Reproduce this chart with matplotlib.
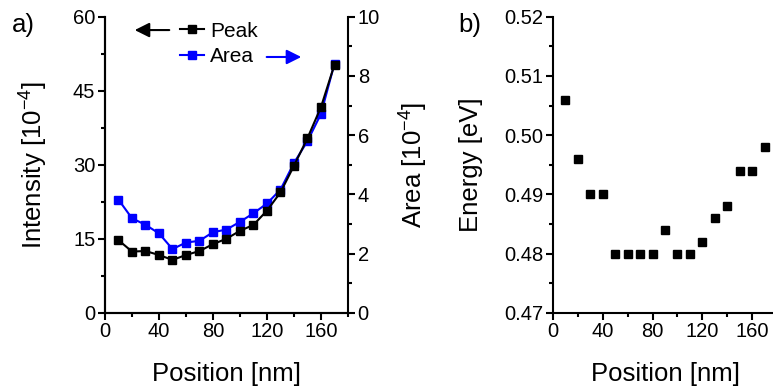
import matplotlib
matplotlib.use('Agg')
import matplotlib.pyplot as plt
from matplotlib.ticker import MultipleLocator

plt.rcParams['font.family'] = ['Liberation Sans', 'DejaVu Sans']
plt.rcParams['mathtext.default'] = 'regular'

pos = [10, 20, 30, 40, 50, 60, 70, 80, 90, 100, 110, 120, 130, 140, 150, 160, 170]
peak = [14.7, 12.4, 12.5, 11.7, 10.7, 11.7, 12.5, 13.9, 15.0, 16.6, 17.8, 20.7, 24.4, 29.8, 35.4, 41.7, 50.3]
area = [3.82, 3.19, 2.97, 2.68, 2.15, 2.37, 2.43, 2.72, 2.81, 3.07, 3.36, 3.69, 4.16, 5.06, 5.80, 6.72, 8.42]
energy = [0.506, 0.496, 0.490, 0.490, 0.480, 0.480, 0.480, 0.480, 0.484, 0.480, 0.480, 0.482, 0.486, 0.488, 0.494, 0.494, 0.498]

fig = plt.figure(figsize=(7.73, 3.92), dpi=100)
ax = fig.add_axes([0.1358, 0.2023, 0.3144, 0.755])
ax2 = ax.twinx()
bx = fig.add_axes([0.7154, 0.2023, 0.2898, 0.755])

lp, = ax.plot(pos, peak, 'k-s', lw=1.5, ms=5.8, label='Peak')
la, = ax2.plot(pos, area, '-s', color='#0000ff', lw=1.5, ms=5.8, label='Area')
ax.set_zorder(ax2.get_zorder() + 1)
ax.patch.set_visible(False)

ax.set_xlim(0, 180)
ax.set_ylim(0, 60)
ax2.set_ylim(0, 10)
ax.xaxis.set_major_locator(MultipleLocator(40))
ax.xaxis.set_minor_locator(MultipleLocator(20))
ax.yaxis.set_major_locator(MultipleLocator(15))
ax.yaxis.set_minor_locator(MultipleLocator(7.5))
ax2.yaxis.set_major_locator(MultipleLocator(2))
ax2.yaxis.set_minor_locator(MultipleLocator(1))
ax.set_xlabel('Position [nm]', fontsize=18.5)
ax.set_ylabel('Intensity [10$^{-4}$]', fontsize=18.5)
ax2.set_ylabel('Area [10$^{-4}$]', fontsize=18.5)
ax.xaxis.set_label_coords(0.5, -0.165)
ax.yaxis.set_label_coords(-0.226, 0.5)
ax2.yaxis.set_label_coords(1.206, 0.5)

bx.plot(pos, energy, 'ks', ms=5.5, lw=0)
bx.set_xlim(0, 180)
bx.set_ylim(0.47, 0.52)
bx.xaxis.set_major_locator(MultipleLocator(40))
bx.xaxis.set_minor_locator(MultipleLocator(20))
bx.yaxis.set_major_locator(MultipleLocator(0.01))
bx.yaxis.set_minor_locator(MultipleLocator(0.005))
bx.set_xlabel('Position [nm]', fontsize=18.5)
bx.set_ylabel('Energy [eV]', fontsize=18.5)
bx.xaxis.set_label_coords(0.5, -0.165)
bx.yaxis.set_label_coords(-0.312, 0.5)

for a in (ax, ax2, bx):
    a.spines['top'].set_visible(False)
    for s in a.spines.values():
        s.set_linewidth(1.5)
    a.tick_params(which='both', direction='out', width=1.5, labelsize=14.5, pad=2)
    a.tick_params(which='major', length=5)
    a.tick_params(which='minor', length=3)
bx.spines['right'].set_visible(False)
ax.spines['right'].set_visible(False)

ax.legend([lp, la], ['Peak', 'Area'], loc='center left', bbox_to_anchor=(0.309, 0.909),
          frameon=False, fontsize=15, handlelength=1.15, handletextpad=0.3,
          labelspacing=0.3, borderaxespad=0, borderpad=0)
ax.annotate('', xy=(0.111, 0.955), xytext=(0.276, 0.955), xycoords='axes fraction',
            arrowprops=dict(arrowstyle='-|>', color='k', lw=1.5, mutation_scale=22))
ax.annotate('', xy=(0.819, 0.864), xytext=(0.654, 0.864), xycoords='axes fraction',
            arrowprops=dict(arrowstyle='-|>', color='#0000ff', lw=1.5, mutation_scale=22))

fig.text(0.0155, 0.967, 'a)', fontsize=18.5, va='top')
fig.text(0.5925, 0.967, 'b)', fontsize=18.5, va='top')

fig.savefig('out.png', dpi=100)
